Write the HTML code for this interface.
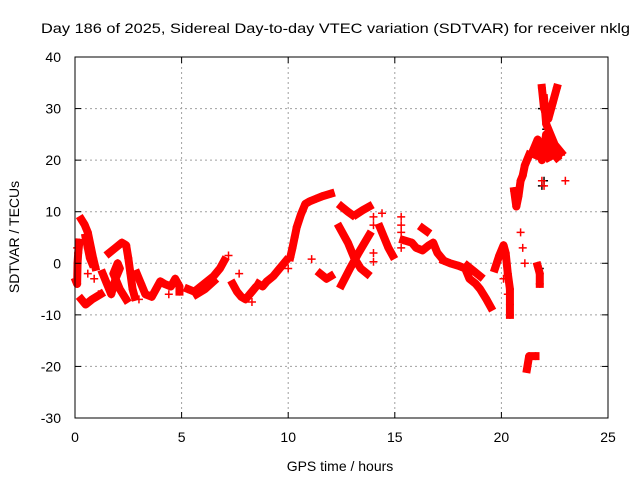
<!DOCTYPE html>
<html><head><meta charset="utf-8"><style>
html,body{margin:0;padding:0;background:#fff;}
svg text{font-family:"Liberation Sans",sans-serif;fill:#000;}
</style></head><body>
<svg id="chart" width="640" height="480" viewBox="0 0 640 480">
<rect width="640" height="480" fill="#fff"/>
<text x="41" y="33" font-size="14" textLength="589" lengthAdjust="spacingAndGlyphs">Day 186 of 2025, Sidereal Day-to-day VTEC variation (SDTVAR) for receiver nklg</text>
<g id="grid"></g>
<g id="marks"></g>
<rect x="75" y="57" width="533" height="361" fill="none" stroke="#000" stroke-width="1"/>
<g id="ticks"></g>
<text x="340" y="471" font-size="14" text-anchor="middle">GPS time / hours</text>
<text x="0" y="0" font-size="14" text-anchor="middle" transform="translate(19,237) rotate(-90)">SDTVAR / TECUs</text>
</svg>
<script>
const xTicks=[0,5,10,15,20,25];
const yTicks=[-30,-20,-10,0,10,20,30,40];
// tracks of [hour, value]
const track1=[[0.05,-3.5],[0.1,-4],[0.12,0],[0.15,2],[0.2,4]];
const track2=[[0.3,8.5],[0.45,7.5],[0.6,6],[0.75,3],[0.85,1],[0.95,-0.7]];
const track3=[[0.3,-7],[0.5,-8],[0.8,-7],[1.0,-6.5],[1.2,-6]];
const track4=[[0.5,5],[0.6,3],[0.7,1],[0.8,0]];
const track5=[[1.6,2],[1.9,3],[2.2,4],[2.4,3.5],[2.5,1],[2.6,-2],[2.7,-5],[2.8,-6.5]];
const track6=[[1.3,-2],[1.5,-4],[1.7,-6],[1.9,-3],[2.1,-1],[2.0,0],[1.8,-2],[2.1,-5],[2.4,-7]];
const track7=[[2.9,-2],[3.1,-4],[3.3,-6],[3.6,-6.5],[3.8,-5],[4.0,-3.5],[4.2,-4],[4.5,-4.5],[4.7,-3],[4.9,-4.5],[4.9,-5.5]];
const track8=[[5.3,-5],[5.6,-5.5],[5.9,-4.5],[6.2,-3.5],[6.5,-2.5],[6.8,-1],[7.0,0.5]];
const track9=[[5.7,-6],[6.1,-5],[6.5,-3.5]];
const track10=[[7.4,-4],[7.6,-5.5],[7.8,-6.5],[8.0,-7],[8.2,-6],[8.4,-5]];
const track11=[[8.6,-4],[8.8,-4.5],[9.0,-3.5],[9.3,-2.5],[9.6,-1],[9.9,0.5]];
const track12=[[10.1,1.2],[10.2,3],[10.3,5],[10.4,7],[10.6,9.5],[10.8,11.5],[11.0,12],[11.3,12.5],[11.6,13],[12.0,13.5]];
const track13=[[11.1,0.8]];
const track14=[[11.5,-2],[11.8,-3],[12.0,-2.5]];
const track15=[[12.5,-4.2],[12.9,-1],[13.3,2],[13.8,5.5]];
const track16=[[12.4,7],[12.8,4],[13.1,1],[13.4,-1],[13.7,-2]];
const track17=[[12.5,11],[12.8,10],[13.0,9.4]];
const track18=[[13.2,9.5],[13.5,10.3],[13.8,11]];
const track19=[[14.3,7],[14.5,5],[14.7,3],[14.9,1.5]];
const track20=[[15.4,4.5],[15.8,4],[16.0,3],[16.3,2.5],[16.6,3.5],[16.8,4],[17.0,2],[17.2,1]];
const track21=[[16.3,6.8],[16.5,6.2]];
const track22=[[17.3,0.5],[17.6,0],[18.0,-0.5],[18.3,-1],[18.5,-3],[18.8,-4],[19.0,-5],[19.3,-7],[19.5,-8.5]];
const track23=[[18.4,-0.5],[18.7,-1.5],[19.0,-2.5]];
const track24=[[19.7,-1],[19.9,1.5],[20.1,3.5],[20.2,2],[20.3,-2],[20.4,-5],[20.4,-8],[20.4,-10]];
const track25=[[20.6,14],[20.7,11],[20.8,13],[20.9,16],[21.0,17],[21.1,19],[21.3,21]];
const track26=[[21.5,22],[21.7,24],[21.9,20],[22.1,25],[22.3,22],[22.6,20.5]];
const track27=[[21.9,34],[22.0,30],[22.2,28],[22.4,31],[22.6,34]];
const track28=[[21.7,-0.5],[21.8,-2],[21.8,-4]];
const track29=[[21.2,-20.5],[21.3,-18],[21.6,-18]];
const track30=[[22.0,32],[22.1,27],[22.3,25],[22.5,23],[22.8,21.5]];
const track31=[[21.6,21],[21.8,23],[22.0,22],[22.2,20.5]];
const scatter=[[0.1,3],[0.6,-2],[0.9,-3],[1.1,-6],[3.0,-7],[4.4,-6],[7.2,1.5],[7.7,-2],[8.3,-7.5],[10.0,-1],[14.0,9],[14.0,7.4],[14.0,2],[14.0,0.3],[14.4,9.7],[15.3,9],[15.3,7.4],[15.3,6],[15.3,3],[20.1,-3],[20.3,-6],[20.9,6],[21.0,3],[21.1,0],[21.9,16],[22.0,15],[22.8,21],[23.0,16]];
const tracks=[track1,track2,track3,track4,track5,track6,track7,track8,track9,track10,track11,track12,track13,track14,track15,track16,track17,track18,track19,track20,track21,track22,track23,track24,track25,track26,track27,track28,track29,track30,track31];

const X=h=>75+h*(533/25);
const Y=v=>418-(v+30)*(361/70);
const NS="http://www.w3.org/2000/svg";
const grid=document.getElementById('grid'),ticks=document.getElementById('ticks'),marks=document.getElementById('marks');
function mk(tag,attrs,parent){const e=document.createElementNS(NS,tag);for(const k in attrs)e.setAttribute(k,attrs[k]);parent.appendChild(e);return e;}
xTicks.forEach(t=>{
  const x=X(t);
  if(t>0&&t<25){const g=mk('line',{x1:x,x2:x,y1:57,y2:418,stroke:'#a0a0a0','stroke-dasharray':'2,3'},grid);
    
    }
  mk('line',{x1:x,x2:x,y1:418,y2:412,stroke:'#000'},ticks);
  mk('line',{x1:x,x2:x,y1:57,y2:63,stroke:'#000'},ticks);
  const l=mk('text',{x:x,y:442,'font-size':14,'text-anchor':'middle'},ticks);l.textContent=t;
  
  
});
yTicks.forEach(t=>{
  const y=Y(t);
  if(t>-30&&t<40){const g=mk('line',{x1:75,x2:608,y1:y,y2:y,stroke:'#a0a0a0','stroke-dasharray':'2,3'},grid);
    
    }
  mk('line',{x1:75,x2:81,y1:y,y2:y,stroke:'#000'},ticks);
  mk('line',{x1:602,x2:608,y1:y,y2:y,stroke:'#000'},ticks);
  const l=mk('text',{x:61,y:y+5,'font-size':14,'text-anchor':'end'},ticks);l.textContent=t;
  
  
});
function plus(h,v,col){
  const x=X(h),y=Y(v);
  const p=mk('path',{d:`M${x-4},${y}H${x+4}M${x},${y-4}V${y+4}`,stroke:col,'stroke-width':1.5,fill:'none'},marks);
  
  
}
[[21.9,15],[22.0,16],[21.9,30],[22.1,26],[21.8,-1]].forEach(p=>plus(p[0],p[1],'#000'));
tracks.forEach(tr=>{
  if(tr.length>1){
    const pl=mk('polyline',{points:tr.map(p=>X(p[0])+','+Y(p[1])).join(' '),fill:'none',stroke:'#f00','stroke-width':8,'stroke-linejoin':'round','stroke-linecap':'square'},marks);
    
    
  }
  tr.forEach(p=>plus(p[0],p[1],'#f00'));
});
scatter.forEach(p=>plus(p[0],p[1],'#f00'));
</script>
</body></html>
